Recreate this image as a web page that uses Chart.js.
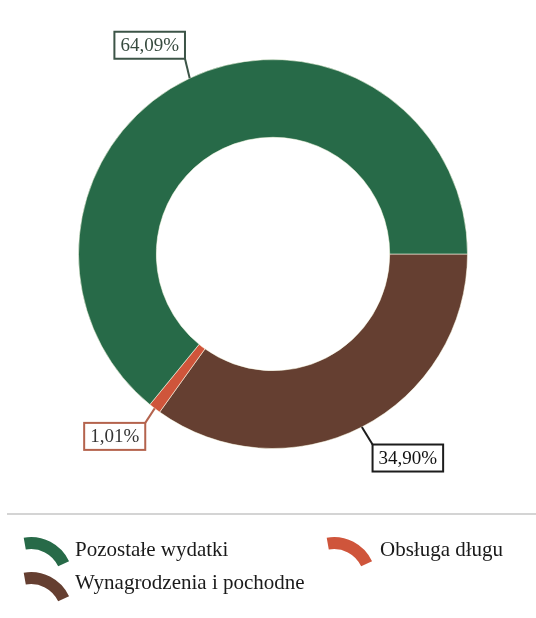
<html lang="pl">
<head>
  <meta charset="UTF-8">
  <title>Struktura wydatków</title>
  <script src="https://cdn.jsdelivr.net/npm/chart.js"></script>
  <style>
    body { margin: 0; background: #fff; }
    #wrap { position: relative; width: 536px; height: 618px; }
  </style>
</head>
<body>
  <div id="wrap"><canvas id="viz"></canvas></div>
  <script>
    // data, in drawing order (clockwise from 3 o'clock)
    const categories = ['Wynagrodzenia i pochodne', 'Obsługa długu', 'Pozostałe wydatki']
    const shares = [34.90, 1.01, 64.09]
    const colors = ['#653f31', '#cf553b', '#276a48']
    const legendOrder = [2, 1, 0]

    // label boxes: offset from the arc's outer midpoint
    const labelOffsets = [[46, 31], [-40, 28], [-40, -33]]
    const labelBorders = ['#1c1c1c', '#b4634d', '#3c5447']
    const labelText = ['#111', '#333', '#364a3e']

    const fmt = v => v.toFixed(2).replace('.', ',') + '%'

    const labelsPlugin = {
      id: 'boxLabels',
      afterDatasetsDraw(chart) {
        const ctx = chart.ctx
        const arcs = chart.getDatasetMeta(0).data
        ctx.save()
        ctx.font = '19px "Liberation Serif", serif'
        ctx.textBaseline = 'middle'
        ctx.textAlign = 'center'
        arcs.forEach((arc, i) => {
          const p = arc.getProps(['x', 'y', 'startAngle', 'endAngle', 'outerRadius'], true)
          const mid = (p.startAngle + p.endAngle) / 2
          const ax = p.x + Math.cos(mid) * p.outerRadius
          const ay = p.y + Math.sin(mid) * p.outerRadius
          const txt = fmt(shares[i])
          const w = ctx.measureText(txt).width + 12
          const h = 27
          const cx = ax + labelOffsets[i][0]
          const cy = ay + labelOffsets[i][1]
          const l = cx - w / 2, t = cy - h / 2
          const ex = Math.min(Math.max(ax, l), l + w)
          const ey = Math.min(Math.max(ay, t), t + h)
          ctx.strokeStyle = labelBorders[i]
          ctx.lineWidth = 2
          ctx.beginPath()
          ctx.moveTo(ax, ay)
          ctx.lineTo(ex, ey)
          ctx.stroke()
          ctx.fillStyle = '#fff'
          ctx.fillRect(l, t, w, h)
          ctx.strokeRect(l, t, w, h)
          ctx.fillStyle = labelText[i]
          ctx.fillText(txt, cx, cy + 1)
        })
        ctx.restore()
      }
    }

    const legendPlugin = {
      id: 'arcLegend',
      afterDraw(chart) {
        const ctx = chart.ctx
        ctx.save()
        ctx.strokeStyle = '#d4d4d4'
        ctx.lineWidth = 2
        ctx.beginPath()
        ctx.moveTo(7, 514)
        ctx.lineTo(536, 514)
        ctx.stroke()
        const slots = [[31, 537, 75, 556], [334, 537, 380, 556], [31, 572, 75, 589]]
        ctx.font = '21px "Liberation Serif", serif'
        ctx.textBaseline = 'alphabetic'
        legendOrder.forEach((idx, k) => {
          const [ix, iy, tx, ty] = slots[k]
          ctx.strokeStyle = colors[idx]
          ctx.lineWidth = 12
          ctx.beginPath()
          ctx.arc(ix, iy + 42, 36, -100 * Math.PI / 180, -25 * Math.PI / 180)
          ctx.stroke()
          ctx.fillStyle = '#1a1a1a'
          ctx.fillText(categories[idx], tx, ty)
        })
        ctx.restore()
      }
    }

    new Chart(document.getElementById('viz'), {
      type: 'doughnut',
      data: {
        labels: categories,
        datasets: [{
          data: shares,
          backgroundColor: colors,
          borderColor: 'rgba(255,255,235,0.55)',
          borderWidth: 1
        }]
      },
      options: {
        responsive: true,
        maintainAspectRatio: false,
        animation: false,
        rotation: 90,
        cutout: '60%',
        layout: { padding: { top: 58, left: 78, right: 68, bottom: 168 } },
        plugins: {
          legend: { display: false },
          tooltip: { enabled: false }
        }
      },
      plugins: [labelsPlugin, legendPlugin]
    })
  </script>
</body>
</html>
